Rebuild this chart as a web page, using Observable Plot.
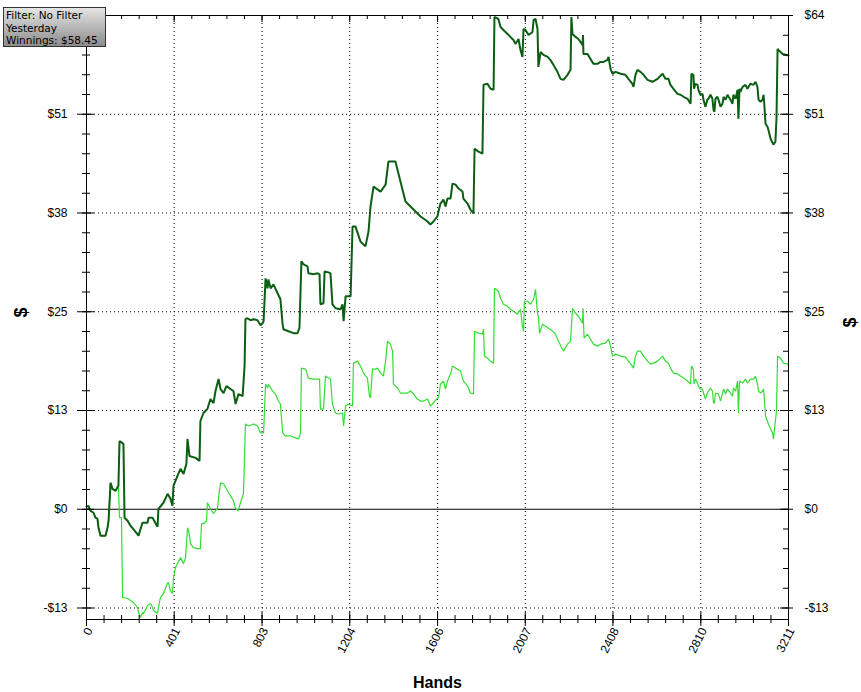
<!DOCTYPE html>
<html><head><meta charset="utf-8">
<script src="https://cdn.jsdelivr.net/npm/d3@7"></script>
<script src="https://cdn.jsdelivr.net/npm/@observablehq/plot@0.6"></script>
<style>
body{margin:0;background:#fff;}
#wrap{position:relative;width:861px;height:692px;overflow:hidden;}
#legend{position:absolute;left:3px;top:7px;width:103px;height:40px;box-sizing:border-box;border:1px solid #333;background:linear-gradient(#e4e4e4,#8c8c8c);font-family:"DejaVu Sans",sans-serif;font-size:10.5px;color:#000;white-space:nowrap;z-index:2;}
#legend div{position:absolute;left:2px;height:12px;line-height:12px;}
svg{position:absolute;left:0;top:0;}
</style></head><body><div id="wrap"><div id="legend"><div style="top:1px">Filter: No Filter</div><div style="top:14px">Yesterday</div><div style="top:26px">Winnings: $58.45</div></div></div>
<script>
const xTicks = [0, 401, 803, 1204, 1606, 2007, 2408, 2810, 3211];
const yTickValues = [-12.72, 0, 12.72, 25.44, 38.16, 50.88, 63.6];
const yTickLabels = ["-$13", "$0", "$13", "$25", "$38", "$51", "$64"];

const darkHands = [0,9,18,32,41,50,55,64,87,96,101,110,119,133,146,151,169,174,188,201,220,238,256,279,284,302,325,329,352,371,384,393,398,416,430,444,457,462,471,499,517,521,535,553,567,581,590,604,613,627,640,659,672,682,695,714,723,727,736,750,764,782,796,805,810,819,828,832,842,855,874,887,897,901,924,947,965,974,983,993,1011,1015,1038,1057,1066,1070,1084,1089,1107,1116,1125,1139,1162,1171,1176,1185,1208,1217,1230,1253,1276,1290,1299,1313,1345,1368,1381,1413,1436,1459,1482,1505,1528,1541,1560,1573,1587,1605,1610,1619,1633,1642,1651,1665,1674,1688,1702,1720,1724,1743,1756,1770,1775,1793,1811,1816,1834,1848,1862,1866,1884,1894,1907,1926,1939,1953,1962,1976,1985,1994,1999,2008,2022,2040,2045,2054,2063,2067,2077,2090,2109,2122,2136,2154,2168,2182,2200,2214,2218,2223,2237,2250,2269,2271,2273,2292,2305,2319,2337,2351,2365,2383,2388,2397,2406,2420,2443,2465,2479,2497,2502,2511,2520,2534,2548,2566,2589,2612,2635,2648,2662,2671,2685,2703,2717,2731,2749,2763,2767,2776,2779,2785,2795,2799,2808,2818,2822,2831,2840,2845,2854,2863,2868,2872,2877,2886,2891,2900,2909,2914,2923,2932,2937,2946,2955,2959,2969,2978,2982,2987,2991,3001,3014,3023,3037,3051,3060,3069,3074,3083,3092,3097,3101,3106,3115,3119,3129,3142,3151,3156,3161,3165,3184,3211];
const darkValues = [0.32,0.45,-0.19,-0.45,-1.09,-1.22,-2.38,-3.40,-3.40,-2.38,-1.48,3.40,2.63,2.38,3.02,8.80,8.42,-1.09,-1.48,-2.12,-2.76,-3.40,-1.73,-1.73,-1.09,-1.09,-2.25,0.06,0.84,1.99,1.35,0.45,3.02,4.30,5.20,4.56,5.85,9.06,6.87,6.62,6.23,11.37,12.40,12.91,14.20,13.68,15.23,16.77,15.48,14.97,15.87,15.48,15.23,13.56,14.84,14.58,18.44,24.48,24.60,24.35,24.48,24.35,23.71,23.96,24.22,29.74,28.46,29.61,28.46,28.97,27.82,27.05,23.84,23.19,22.93,22.68,22.68,23.32,31.93,31.54,31.29,30.39,30.26,30.39,30.26,26.40,26.53,30.64,30.51,30.39,26.40,25.89,25.76,26.40,24.22,27.43,27.43,36.43,36.43,34.50,33.86,35.78,39.00,41.56,40.92,41.82,44.78,44.78,42.21,39.64,39.00,38.35,37.71,37.45,37.07,36.68,37.07,37.71,38.35,39.38,39.89,38.99,40.02,40.02,41.95,41.82,41.31,40.92,40.02,39.38,38.61,38.10,46.45,46.06,45.81,54.67,54.80,54.16,54.03,63.41,63.15,62.12,61.74,61.22,60.84,60.45,59.94,60.58,59.17,58.27,61.86,61.74,61.09,61.48,63.02,63.15,61.86,56.98,58.91,58.52,58.27,57.88,57.24,56.34,55.44,55.31,55.95,56.60,63.41,61.22,60.84,60.58,59.81,61.09,58.65,58.65,58.01,57.37,57.37,57.62,57.62,57.88,58.27,56.73,56.09,56.34,56.09,55.96,55.44,54.80,54.41,55.96,56.60,56.34,55.96,55.31,55.06,55.44,56.09,55.44,55.44,54.67,54.16,53.51,53.39,53.13,52.87,52.23,56.09,55.96,54.16,54.80,54.67,54.03,53.39,53.51,52.74,51.84,52.74,52.87,53.39,52.87,51.46,51.20,52.87,53.13,52.74,51.84,52.23,53.13,52.74,53.39,53.13,52.74,52.23,53.39,52.87,54.03,50.30,54.16,53.77,54.41,54.67,54.16,54.80,54.67,55.06,54.41,52.74,52.49,52.74,53.39,51.84,49.65,49.27,48.88,47.73,46.96,47.34,50.30,59.29,59.17,58.65,58.45];

const lightHands = [0,9,18,32,41,50,55,64,87,96,101,110,119,133,146,151,160,165,169,188,201,215,233,238,247,256,261,279,293,302,306,325,329,338,352,370,375,384,393,398,407,416,430,444,453,462,467,476,489,508,521,526,535,549,553,567,581,590,599,604,613,627,645,659,672,682,695,704,718,727,741,764,782,796,810,819,828,832,851,864,878,887,897,910,933,956,970,979,983,1002,1015,1034,1057,1066,1070,1084,1093,1107,1116,1125,1139,1153,1171,1176,1185,1198,1217,1221,1240,1253,1267,1285,1294,1299,1308,1322,1331,1345,1358,1368,1377,1390,1400,1404,1423,1436,1450,1468,1482,1496,1514,1528,1541,1560,1573,1587,1605,1610,1619,1633,1642,1651,1665,1674,1688,1711,1724,1743,1756,1770,1775,1793,1811,1816,1820,1834,1848,1862,1866,1884,1894,1907,1926,1939,1953,1971,1985,1994,1999,2003,2017,2031,2045,2054,2063,2067,2072,2086,2100,2113,2132,2145,2159,2177,2182,2200,2214,2223,2237,2250,2269,2271,2276,2292,2305,2319,2337,2351,2374,2388,2397,2406,2420,2443,2465,2479,2497,2502,2511,2520,2534,2548,2566,2580,2594,2612,2635,2648,2662,2671,2685,2703,2717,2731,2749,2763,2767,2776,2779,2785,2795,2799,2808,2818,2822,2831,2840,2845,2854,2863,2868,2872,2877,2891,2900,2914,2923,2932,2946,2955,2959,2969,2978,2982,2987,3001,3014,3023,3037,3051,3060,3069,3074,3083,3092,3097,3101,3106,3119,3138,3142,3151,3156,3161,3174,3188,3211];
const lightValues = [0.32,0.45,-0.19,-0.45,-1.09,-1.22,-2.38,-3.40,-3.40,-2.38,-1.48,3.40,2.63,2.38,3.02,-1.09,-1.09,-11.37,-11.37,-11.50,-11.76,-12.01,-12.65,-13.30,-13.94,-13.30,-13.43,-12.40,-12.14,-12.65,-13.04,-13.43,-12.65,-11.37,-10.86,-9.57,-9.44,-10.47,-10.86,-8.80,-7.52,-7.00,-6.23,-7.00,-6.23,-2.38,-2.76,-4.43,-4.95,-5.07,-5.07,-1.86,-1.86,-1.48,0.84,0.06,-0.58,-0.19,0.06,1.48,3.40,3.28,2.38,1.73,1.09,0.06,-0.19,0.84,1.99,10.99,10.73,10.99,10.73,9.83,9.83,16.13,15.61,16.13,15.23,14.84,13.94,13.56,9.83,9.44,9.44,9.19,9.06,9.83,18.18,18.05,16.90,16.77,16.77,16.77,12.91,12.91,17.15,16.90,16.77,13.56,12.40,12.27,12.40,10.73,13.30,13.56,13.30,18.82,19.08,18.44,17.54,16.90,14.58,14.33,18.05,18.05,18.18,17.54,17.15,19.08,21.65,21.27,20.37,16.13,15.61,14.97,14.97,14.97,15.23,14.84,14.20,13.94,13.94,14.20,13.30,13.69,14.33,14.33,16.13,16.51,15.48,16.51,17.41,18.44,18.18,17.80,16.51,15.87,14.97,14.84,22.94,22.68,22.55,23.19,19.72,19.47,19.08,18.82,28.46,28.07,27.18,26.40,26.15,25.76,25.51,25.12,25.76,23.58,22.94,26.79,26.79,26.40,27.05,28.33,25.12,24.86,22.68,23.84,23.58,23.32,22.94,22.55,21.65,20.62,20.37,21.27,21.65,25.89,25.25,24.86,23.96,25.89,22.04,22.55,21.91,21.27,21.01,21.27,21.39,21.91,21.01,19.72,19.98,19.72,19.59,19.08,18.44,18.18,19.72,20.37,20.37,19.72,19.08,18.70,18.82,19.08,19.72,19.08,18.82,18.18,17.54,17.41,17.15,16.90,16.51,16.13,18.44,18.05,16.13,16.77,16.25,15.87,15.48,15.48,14.97,14.20,14.97,15.23,15.61,15.23,13.69,13.69,14.97,14.84,13.94,15.48,14.84,15.48,14.97,14.58,15.61,15.23,16.51,12.40,16.51,16.25,16.77,16.25,16.77,16.77,17.15,16.13,15.23,14.97,15.23,15.48,13.94,12.01,10.99,9.83,9.06,11.37,12.66,19.72,19.47,18.82,18.70];

const dark = darkHands.map((h, i) => ({hands: h, value: darkValues[i]}));
const light = lightHands.map((h, i) => ({hands: h, value: lightValues[i]}));
const labelOf = new Map(yTickValues.map((v, i) => [v, yTickLabels[i]]));
// the left "$64" label sits under the legend box in the original, so it is not drawn
const leftLabelValues = yTickValues.slice(0, -1);

const xMinor = d3.range(0, 3211.5, 3211 / 40);
const yMinor = d3.range(-12.72, 63.7, 12.72 / 5);
const PW = 702, PH = 604;

const chart = Plot.plot({
  width: 861, height: 692,
  marginLeft: 86, marginRight: 73, marginTop: 15, marginBottom: 73,
  style: {fontFamily: "'Liberation Sans', Arial, sans-serif", fontSize: "12px", background: "#fff", color: "#000"},
  x: {domain: [0, 3211], axis: null},
  y: {domain: [-14.2, 63.6], axis: null},
  marks: [
    Plot.ruleY(yTickValues.filter(v => v !== 0), {stroke: "#000", strokeDasharray: "1,3"}),
    Plot.ruleX(xTicks.slice(1, -1), {stroke: "#000", strokeDasharray: "1,3"}),
    Plot.ruleY([0], {stroke: "#000", strokeWidth: 1}),
    Plot.line(light, {x: "hands", y: "value", stroke: "#33dd33", strokeWidth: 1.2, strokeLinejoin: "miter"}),
    Plot.line(dark, {x: "hands", y: "value", stroke: "#0b5e12", strokeWidth: 2, strokeLinejoin: "miter"}),
    Plot.frame({stroke: "#000"}),
    Plot.tickX(xTicks, {insetTop: PH - 7, insetBottom: -7, stroke: "#000"}),
    Plot.tickX(xMinor, {insetTop: PH - 4, insetBottom: -4, stroke: "#000"}),
    Plot.tickX(xTicks, {insetTop: 0, insetBottom: PH - 7, stroke: "#000"}),
    Plot.tickX(xMinor, {insetTop: 0, insetBottom: PH - 4, stroke: "#000"}),
    Plot.tickY(yTickValues, {insetLeft: -9, insetRight: PW - 8, stroke: "#000"}),
    Plot.tickY(yMinor, {insetLeft: -4, insetRight: PW - 4, stroke: "#000"}),
    Plot.tickY(yTickValues, {insetLeft: PW - 8, insetRight: -5, stroke: "#000"}),
    Plot.tickY(yMinor, {insetLeft: PW - 5, insetRight: 0, stroke: "#000"}),
    Plot.axisY(leftLabelValues, {anchor: "left", tickSize: 0, tickPadding: 19, tickFormat: d => labelOf.get(d), fontSize: 12, label: null}),
    Plot.axisY(yTickValues, {anchor: "right", tickSize: 0, tickPadding: 16, tickFormat: d => labelOf.get(d), fontSize: 12, label: null}),
    Plot.axisX(xTicks, {anchor: "bottom", tickSize: 0, tickPadding: 9, dx: 3, tickRotate: -63, tickFormat: d => String(d), fontSize: 12, label: null}),
    Plot.text(["Hands"], {frameAnchor: "bottom", dy: 68, lineAnchor: "bottom", fontSize: 16, fontWeight: "bold"}),
    Plot.text(["$"], {frameAnchor: "left", dx: -65, rotate: -90, fontSize: 18, fontWeight: "bold"}),
    Plot.text(["$"], {frameAnchor: "right", dx: 62, rotate: -90, fontSize: 18, fontWeight: "bold"})
  ]
});
document.getElementById("wrap").prepend(chart);
</script>
</body></html>
